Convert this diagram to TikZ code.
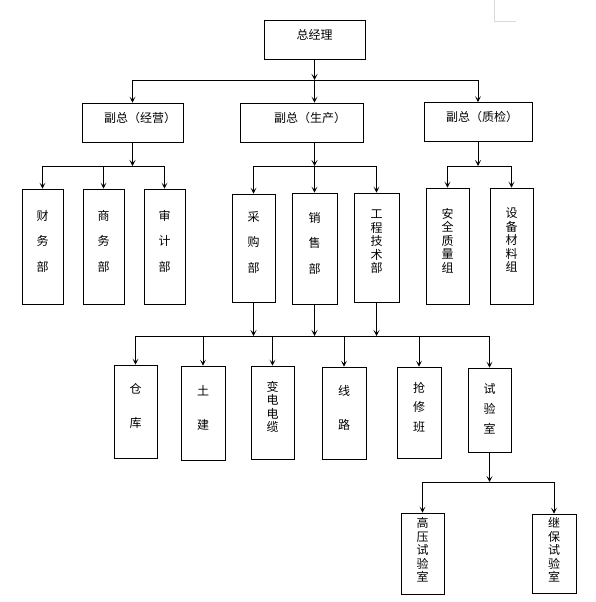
\documentclass[tikz,border=0pt]{standalone}
\usepackage{fontspec}
\setmainfont{Noto Sans CJK SC}
\usetikzlibrary{arrows.meta}

\begin{document}
\begin{tikzpicture}[x=1pt, y=-1pt,
    box/.style={draw, line width=0.9pt, inner sep=0pt, align=center, text depth=12pt,
                font=\fontsize{12}{13.5}\selectfont},
    head/.style={box, minimum height=39pt, text depth=11pt},
    loose/.style={font=\fontsize{12}{25.5}\selectfont},
    arr/.style={-{Stealth[length=6pt, width=6pt, inset=3pt]}, line width=0.7pt},
    bus/.style={line width=0.7pt}
  ]
  \useasboundingbox (0,0) rectangle (596,602);
  % page corner mark
  \draw[black!15, line width=1pt] (494,0) -- (494,22) -- (516,22);

  % top
  \node[head, minimum width=101pt] (zjl) at (314.5,39.5) {总经理};
  \node[head, minimum width=101pt] (fzjy) at (132.5,122.5) {\hspace*{15pt}副总（经营）};
  \node[head, minimum width=123pt] (fzsc) at (301.5,122.5) {\hspace*{17pt}副总（生产）};
  \node[head, minimum width=108pt] (fzzj) at (478,122) {\hspace*{8pt}副总（质检）};

  \coordinate (b1) at (0,80);
  \draw[arr] (zjl.south) -- (zjl.south |- b1);
  \draw[bus] (fzjy.north |- b1) -- (fzzj.north |- b1);
  \draw[arr] (fzjy.north |- b1) -- (fzjy.north);
  \draw[arr] (zjl.south |- b1) -- (zjl.south |- fzsc.north);
  \draw[arr] (fzzj.north |- b1) -- (fzzj.north);

  % departments
  \node[box, loose, minimum width=41pt, minimum height=115pt] (cwb) at (42.5,246.5) {财\\务\\部};
  \node[box, loose, minimum width=41pt, minimum height=115pt] (swb) at (103.5,246.5) {商\\务\\部};
  \node[box, loose, minimum width=41pt, minimum height=115pt] (sjb) at (164.5,246.5) {审\\计\\部};
  \node[box, loose, minimum width=43pt, minimum height=108pt] (cgb) at (253.5,248) {采\\购\\部};
  \node[box, loose, minimum width=45pt, minimum height=111pt] (xsb) at (314.5,248.5) {销\\售\\部};
  \node[box, minimum width=45pt, minimum height=109pt] (gcjsb) at (376.5,247.5) {工\\程\\技\\术\\部};
  \node[box, minimum width=43pt, minimum height=116pt] (aqzlz) at (447.5,246) {安\\全\\质\\量\\组};
  \node[box, minimum width=43pt, minimum height=116pt] (sbclz) at (511.5,246) {设\\备\\材\\料\\组};

  \coordinate (b2) at (0,166);
  \draw[arr] (fzjy.south) -- (fzjy.south |- b2);
  \draw[bus] (cwb.north |- b2) -- (sjb.north |- b2);
  \foreach \n in {cwb,swb,sjb}
    \draw[arr] (\n.north |- b2) -- (\n.north);

  \draw[arr] (xsb.north |- fzsc.south) -- (xsb.north |- b2);
  \draw[bus] (cgb.north |- b2) -- (gcjsb.north |- b2);
  \foreach \n in {cgb,xsb,gcjsb}
    \draw[arr] (\n.north |- b2) -- (\n.north);

  \draw[arr] (fzzj.south) -- (fzzj.south |- b2);
  \draw[bus] (aqzlz.north |- b2) -- (sbclz.north |- b2);
  \foreach \n in {aqzlz,sbclz}
    \draw[arr] (\n.north |- b2) -- (\n.north);

  % production units
  \node[box, font=\fontsize{12}{34}\selectfont, minimum width=43pt, minimum height=93pt] (ck) at (135.5,411.5) {仓\\库};
  \node[box, font=\fontsize{12}{34}\selectfont, minimum width=44pt, minimum height=94pt] (tj) at (203,413) {土\\建};
  \node[box, minimum width=43pt, minimum height=93pt] (bddl) at (272.5,412.5) {变\\电\\电\\缆};
  \node[box, font=\fontsize{12}{34}\selectfont, minimum width=44pt, minimum height=92pt] (xl) at (344,413) {线\\路};
  \node[box, font=\fontsize{12}{19.5}\selectfont, minimum width=44pt, minimum height=91pt] (qxb) at (419,412.5) {抢\\修\\班};
  \node[box, font=\fontsize{12}{20}\selectfont, text depth=3pt, minimum width=43pt, minimum height=84pt] (syss) at (489.5,410) {试\\验\\室};

  \coordinate (b3) at (0,336);
  \foreach \n in {cgb,xsb,gcjsb}
    \draw[arr] (\n.south) -- (\n.south |- b3);
  \draw[bus] (ck.north |- b3) -- (syss.north |- b3);
  \foreach \n in {ck,tj,bddl,xl,qxb,syss}
    \draw[arr] (\n.north |- b3) -- (\n.north);

  % laboratories
  \node[box, text depth=8pt, minimum width=43pt, minimum height=81pt] (gysys) at (422.5,553.5) {高\\压\\试\\验\\室};
  \node[box, text depth=8pt, minimum width=44pt, minimum height=79pt] (jbsys) at (554,553.5) {继\\保\\试\\验\\室};

  \coordinate (b4) at (0,482);
  \draw[arr] (syss.south) -- (syss.south |- b4);
  \draw[bus] (gysys.north |- b4) -- (jbsys.north |- b4);
  \foreach \n in {gysys,jbsys}
    \draw[arr] (\n.north |- b4) -- (\n.north);
\end{tikzpicture}
\end{document}
